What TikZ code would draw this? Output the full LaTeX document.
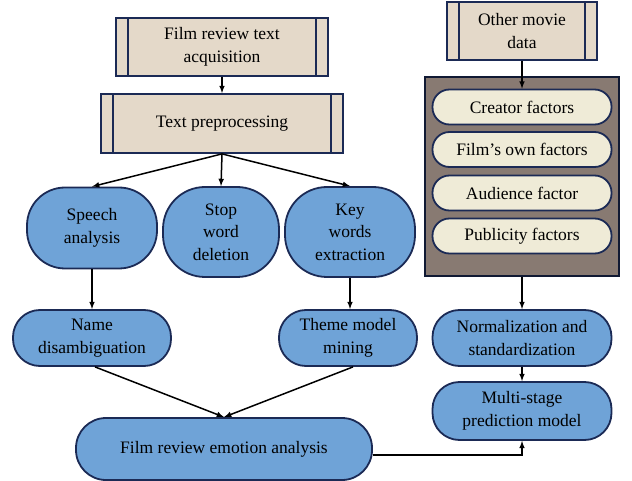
\documentclass[tikz,border=0pt]{standalone}
\usepackage{fontspec}
\setmainfont{Liberation Serif}
\definecolor{navy}{HTML}{1B2A55}
\definecolor{beige}{HTML}{E4D9C9}
\definecolor{skyblue}{HTML}{6FA3D7}
\definecolor{cream}{HTML}{EFEBD7}
\definecolor{taupe}{HTML}{887A72}
\begin{document}
\begin{tikzpicture}
    % one unit is one pixel of the picture, y runs downwards
    [x=1pt, y=-1pt,
      font=\fontsize{17.5}{22.5}\selectfont,
      proc/.style={draw=navy, line width=1.8pt, fill=beige, inner sep=0pt, align=center,
        path picture={\draw[navy, line width=1.8pt]
          ([xshift=12pt]path picture bounding box.north west) -- ([xshift=12pt]path picture bounding box.south west)
          ([xshift=-12pt]path picture bounding box.north east) -- ([xshift=-12pt]path picture bounding box.south east);}},
      blob/.style={draw=navy, line width=1.8pt, fill=skyblue, inner sep=0pt, align=center, rounded corners=#1},
      blob/.default=27pt,
      factor/.style={draw=navy, line width=1.8pt, fill=cream, inner sep=0pt,
        minimum width=179pt, minimum height=35pt, rounded corners=17pt},
      arr/.style={->, >=latex, line width=1.5pt}]
    \useasboundingbox (0,0) rectangle (632,481);

    % left column: review texts
    \node[proc, minimum width=212, minimum height=58] (acq) at (222,47) {Film review text\\acquisition};
    \node[proc, minimum width=242, minimum height=59] (prep) at (222,123.5) {Text preprocessing};
    \node[blob=38pt, minimum width=130, minimum height=81] (speech) at (92,228) {Speech\\analysis};
    \node[blob=42pt, minimum width=116, minimum height=90] (stop) at (221,232) {Stop\\word\\deletion};
    \node[blob=42pt, minimum width=130, minimum height=90] (key) at (350,232) {Key\\words\\extraction};
    \node[blob, minimum width=158, minimum height=56] (name) at (92,338) {Name\\disambiguation};
    \node[blob, minimum width=138, minimum height=56] (theme) at (348,338) {Theme model\\mining};
    \node[blob=30pt, minimum width=296, minimum height=62] (emo) at (224,449) {Film review emotion analysis};

    % right column: other data
    \node[proc, minimum width=150, minimum height=58] (other) at (522,31) {Other movie\\data};
    \node[draw=navy!60!black, line width=1.8pt, fill=taupe, minimum width=194, minimum height=199] (grp) at (522,176.5) {};
    \node[factor] (creator) at (522,107) {Creator factors};
    \node[factor] (own) at (522,149.5) {Film{\char"0027}s own factors};
    \node[factor] (aud) at (522,193) {Audience factor};
    \node[factor] (pub) at (522,236) {Publicity factors};
    \node[blob, minimum width=179, minimum height=56] (norm) at (522,338) {Normalization and\\standardization};
    \node[blob, minimum width=179, minimum height=58] (multi) at (522,411) {Multi-stage\\prediction model};

    \draw[arr] (acq) -- (prep);
    \draw[arr] (prep.south) -- (speech.north);
    \draw[arr] (prep.south) -- (stop.north);
    \draw[arr] (prep.south) -- (key.north);
    \draw[arr] (speech) -- (name);
    \draw[arr] (key.south) -- (key.south |- theme.north);
    \draw[arr] ([xshift=3pt]name.south) -- (emo.north);
    \draw[arr] ([xshift=5pt]theme.south) -- (emo.north);
    \draw[arr] (other) -- (creator);
    \draw[arr] (grp) -- (norm);
    \draw[arr] (norm) -- (multi);
    \draw[arr] ([yshift=-6pt]emo.east) -| (multi.south);
\end{tikzpicture}
\end{document}
